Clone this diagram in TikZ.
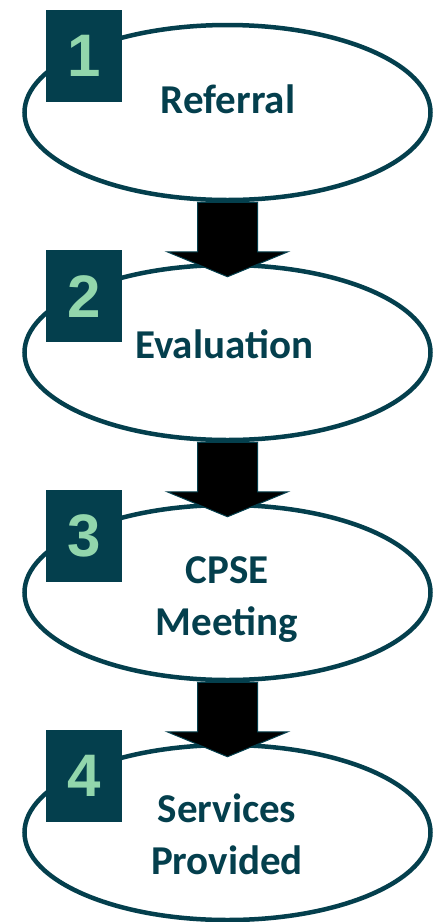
\documentclass[tikz,border=0pt]{standalone}
\usepackage{fontspec}
\setmainfont{Carlito}
\newfontfamily\numfont{Liberation Sans}
\usetikzlibrary{shapes.geometric,calc}
\definecolor{teal}{HTML}{043F4D}
\definecolor{mint}{HTML}{92D6AC}
\tikzset{
  stage/.style={ellipse, draw=teal, line width=4.5pt, fill=white, inner sep=0pt,
    minimum width=406pt, minimum height=175pt},
  numbox/.style={fill=teal, minimum width=76pt, minimum height=92pt, inner sep=0pt,
    anchor=north west, text=mint, font=\numfont\bfseries\fontsize{60}{60}\selectfont},
  label/.style={anchor=base, text=teal, inner sep=0pt,
    font=\bfseries\fontsize{41}{52}\selectfont},
  blockarrow/.style={fill=black, draw=teal, line width=1pt, line join=miter}
}
\begin{document}
\begin{tikzpicture}[x=1pt,y=-1pt]
\useasboundingbox (0,0) rectangle (441,922);
% stages
\node[stage] (e1) at (227.5,112.5) {};
\node[stage] (e2) at (227.5,352.5) {};
\node[stage] (e3) at (227.5,592.5) {};
\node[stage] (e4) at (227.5,832.5) {};
% arrows
\foreach \a/\b in {e1/e2,e2/e3,e3/e4}{
  \draw[blockarrow] ($(\a.south)+(-30,0)$) -- ($(\a.south)+(30,0)$)
    -- ($(\b.north)+(30,-11)$) -- ($(\b.north)+(60.5,-11)$)
    -- ($(\b.north)+(0,14)$) -- ($(\b.north)+(-60.5,-11)$)
    -- ($(\b.north)+(-30,-11)$) -- cycle;
}
% number boxes
\node[numbox] (n1) at (46,10) {1};
\node[numbox] (n2) at (46,250) {2};
\node[numbox] (n3) at (46,490) {3};
\node[numbox] (n4) at (46,730) {4};
% labels
\node[label] (t1) at (228,113) {Referral};
\node[label] (t2) at (224,358) {Evaluation};
\node[label] (t3) at (227,583) {\parbox[t]{300pt}{\centering CPSE\\Meeting}};
\node[label] (t4) at (227,822) {\parbox[t]{300pt}{\centering Services\\Provided}};
\end{tikzpicture}
\end{document}
